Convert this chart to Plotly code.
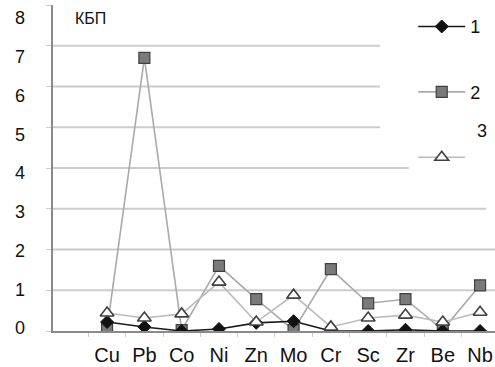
import plotly.graph_objects as go

elements = ["Cu", "Pb", "Co", "Ni", "Zn", "Mo", "Cr", "Sc", "Zr", "Be", "Nb"]
series1 = [0.22, 0.10, 0.00, 0.05, 0.20, 0.24, 0.00, 0.00, 0.03, 0.00, 0.00]
series2 = [0.05, 6.70, 0.02, 1.60, 0.78, 0.02, 1.52, 0.68, 0.78, 0.03, 1.12]
series3 = [0.44, 0.32, 0.42, 1.20, 0.22, 0.88, 0.10, 0.32, 0.39, 0.22, 0.46]
y_ticks = [0, 1, 2, 3, 4, 5, 6, 7, 8]
grid_vals = [1, 2, 3, 4, 5, 6, 7]
grid_ends = [1.0, 1.0, 0.98, 0.805, 0.74, 0.74, 0.74]  # paper-x end of each gridline

FONT = "Liberation Sans, Arial, sans-serif"

fig = go.Figure()
fig.add_trace(go.Scatter(
    x=elements, y=series2, name="2", mode="lines+markers", legendrank=2, legendgroup="b",
    line=dict(color="#aaaaaa", width=1.6),
    marker=dict(symbol="square", size=11, color="#7a7a7a", line=dict(color="#404040", width=1.2))))
fig.add_trace(go.Scatter(
    x=elements, y=series1, name="1", mode="lines+markers", legendrank=1, legendgroup="a",
    line=dict(color="#1a1a1a", width=1.6),
    marker=dict(symbol="diamond", size=10, color="#111111", line=dict(color="#111111", width=1))))
fig.add_trace(go.Scatter(
    x=elements, y=series3, name="", mode="lines+markers", legendrank=3, legendgroup="c",
    line=dict(color="#bbbbbb", width=1.6),
    marker=dict(symbol="triangle-up", size=12, color="white", line=dict(color="#404040", width=1.6))))
# invisible helper trace for the overlaid tick-label axis
fig.add_trace(go.Scatter(
    x=elements, y=series1, yaxis="y2", mode="markers", showlegend=False,
    hoverinfo="skip", marker=dict(opacity=0)))

shapes = []
for v, xe in zip(grid_vals, grid_ends):
    shapes.append(dict(type="line", xref="paper", yref="y", x0=0, x1=xe, y0=v, y1=v,
                       line=dict(color="#cccccc", width=2), layer="below"))
fig.update_layout(shapes=shapes)

fig.add_annotation(text="КБП", xref="paper", yref="paper", x=0.045, y=0.99,
                   xanchor="left", yanchor="top", showarrow=False,
                   font=dict(size=16, color="#111111", family=FONT))
fig.add_annotation(text="3", xref="paper", yref="paper", x=0.955, y=0.615,
                   xanchor="left", yanchor="middle", showarrow=False,
                   font=dict(size=18, color="#111111", family=FONT))

fig.update_xaxes(
    type="category", range=[-1.45, 10.4], showgrid=False, automargin=False,
    showline=True, linecolor="#8a8a8a", linewidth=2,
    ticks="outside", tickson="boundaries", ticklen=4, tickcolor="#cccccc",
    tickfont=dict(size=20, color="#111111", family=FONT),
    ticklabelstandoff=5)

fig.update_layout(
    yaxis=dict(range=[0, 8], tickvals=y_ticks, showgrid=False, zeroline=False, automargin=False,
               showline=True, linecolor="#8a8a8a", linewidth=2, showticklabels=False,
               ticks="outside", ticklen=5, tickcolor="#cccccc"),
    yaxis2=dict(overlaying="y", side="left", range=[-0.0774, 8.336], tickvals=y_ticks,
                showgrid=False, zeroline=False, showline=False, automargin=False,
                ticks="", tickfont=dict(size=18, color="#111111", family=FONT),
                ticklabelstandoff=27, ticklabeloverflow="allow"),
    width=495, height=367,
    margin=dict(l=53, r=0, t=5, b=36),
    paper_bgcolor="white", plot_bgcolor="white",
    font=dict(family=FONT, color="#111111"),
    showlegend=True,
    legend=dict(x=0.815, y=0.99, xanchor="left", yanchor="top",
                bgcolor="rgba(0,0,0,0)", font=dict(size=18, color="#111111", family=FONT),
                tracegroupgap=39, itemwidth=47),
)

fig.write_html("out.html", config={"displayModeBar": False},
               post_script="document.body.style.margin='0';document.body.style.padding='0';")
